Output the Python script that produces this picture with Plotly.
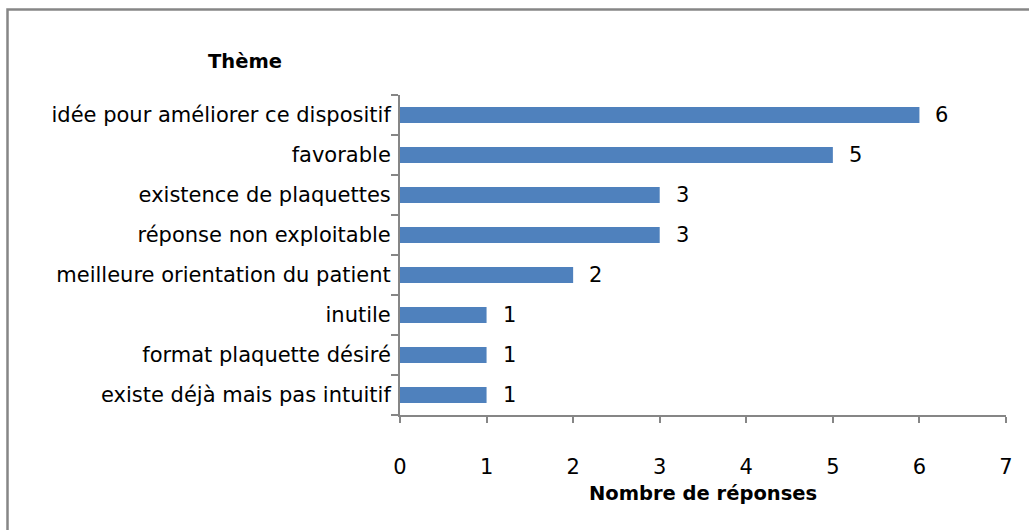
import plotly.graph_objects as go

themes = [
    "idée pour améliorer ce dispositif",
    "favorable",
    "existence de plaquettes",
    "réponse non exploitable",
    "meilleure orientation du patient",
    "inutile",
    "format plaquette désiré",
    "existe déjà mais pas intuitif",
]
counts = [6, 5, 3, 3, 2, 1, 1, 1]
x_ticks = [0, 1, 2, 3, 4, 5, 6, 7]

FONT = "DejaVu Sans"
BAR = "#4F81BD"
AXIS = "#868686"

# Plot area geometry (pixels)
W, H = 1029, 530
L, R, T, B = 400, 23, 95, 115
pw, ph = W - L - R, H - T - B

fig = go.Figure()
fig.add_trace(go.Bar(
    y=themes, x=counts, orientation="h",
    marker=dict(color=BAR, line=dict(width=0)),
    width=0.4,
    hoverinfo="skip",
))

# Value labels to the right of each bar
for t, c in zip(themes, counts):
    fig.add_annotation(x=c, y=t, text=str(c), showarrow=False,
                       xanchor="left", xshift=14,
                       font=dict(family=FONT, size=21, color="black"))

fig.add_annotation(xref="paper", yref="paper", x=0.5, y=-0.245,
                   text="<b>Nombre de réponses</b>", showarrow=False,
                   xanchor="center", yanchor="middle",
                   font=dict(family=FONT, size=19.5, color="black"))
fig.add_annotation(xref="paper", yref="paper", x=(245 - L) / pw, y=(H - B - 61) / ph,
                   text="<b>Thème</b>", showarrow=False,
                   xanchor="center", yanchor="middle",
                   font=dict(family=FONT, size=19.5, color="black"))

# Outer chart frame
fig.add_shape(type="rect", xref="paper", yref="paper",
              x0=(7.5 - L) / pw, x1=2, y0=-2, y1=(H - B - 9.5) / ph,
              line=dict(color=AXIS, width=2.5), fillcolor="rgba(0,0,0,0)")

fig.update_layout(
    width=W, height=H,
    margin=dict(l=L, r=R, t=T, b=B),
    paper_bgcolor="white", plot_bgcolor="white",
    showlegend=False,
    font=dict(family=FONT, size=21, color="black"),
    xaxis=dict(range=[0, 7], tickvals=x_ticks, showgrid=False, zeroline=False,
               showline=True, linecolor=AXIS, linewidth=2,
               ticks="outside", ticklen=6, tickcolor=AXIS, tickwidth=2,
               ticklabelstandoff=26, tickfont=dict(family=FONT, size=21)),
    yaxis=dict(categoryorder="array", categoryarray=themes[::-1],
               showgrid=False, zeroline=False,
               showline=True, linecolor=AXIS, linewidth=2,
               ticks="outside", ticklen=7, tickcolor=AXIS, tickwidth=2,
               tickson="boundaries", ticklabelstandoff=3,
               tickfont=dict(family=FONT, size=21)),
)

fig.write_html("out.html")
